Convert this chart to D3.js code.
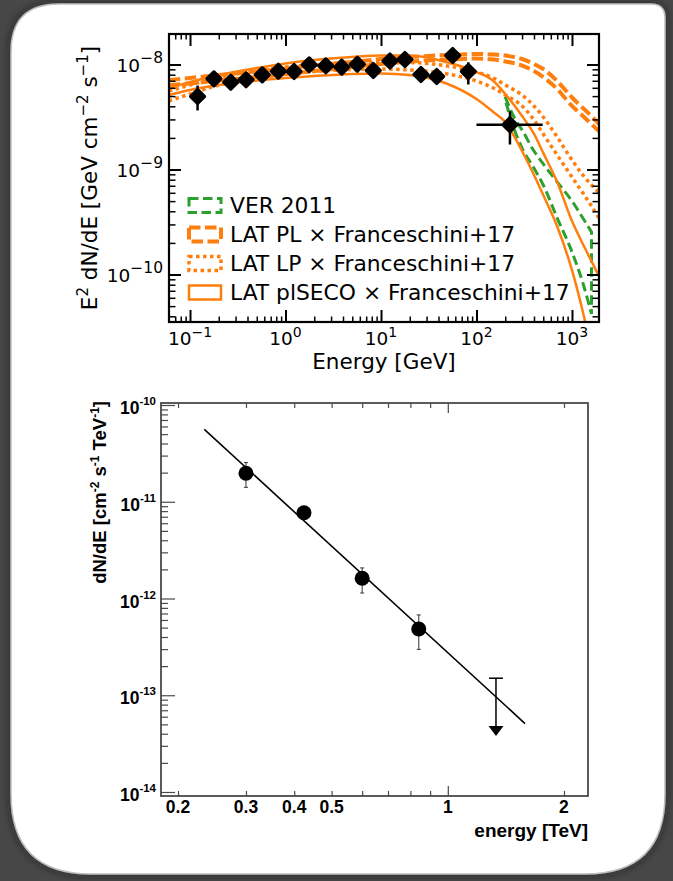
<!DOCTYPE html>
<html>
<head>
<meta charset="utf-8">
<script src="https://cdn.jsdelivr.net/npm/d3@7"></script>
<style>
  html, body { margin: 0; padding: 0; background: #474747; }
  svg { display: block; }
</style>
</head>
<body>
<svg id="fig" width="673" height="881"></svg>
<script>
// ---------------- Upper panel: Fermi-LAT SED with EBL-absorbed models ----------------
const latEnergy = [0.12, 0.178, 0.267, 0.386, 0.571, 0.841, 1.23, 1.77, 2.64, 3.88, 5.65, 8.3, 12.4, 17.8, 26.2, 38.3, 56.3, 82.1];
const latFlux   = [4.95e-9, 7.3e-9, 6.78e-9, 7.15e-9, 7.97e-9, 8.64e-9, 8.58e-9, 9.93e-9, 9.72e-9, 9.44e-9, 1.006e-8, 8.77e-9, 1.08e-8, 1.116e-8, 8.03e-9, 7.69e-9, 1.22e-8, 8.58e-9];
const latFluxLow  = [3.65e-9, 6.9e-9, 6.4e-9, 6.75e-9, 7.55e-9, 8.2e-9, 8.1e-9, 9.4e-9, 9.2e-9, 8.9e-9, 9.5e-9, 8.2e-9, 1.01e-8, 1.04e-8, 7.3e-9, 6.7e-9, 1.05e-8, 6.45e-9];
const latFluxHigh = [6.3e-9, 7.7e-9, 7.2e-9, 7.55e-9, 8.4e-9, 9.1e-9, 9.1e-9, 1.05e-8, 1.03e-8, 1.0e-8, 1.07e-8, 9.4e-9, 1.16e-8, 1.2e-8, 8.8e-9, 8.6e-9, 1.41e-8, 1.05e-8];

const verEnergy = [224];
const verFlux = [2.67e-9];
const verEnergyLow = [100];
const verEnergyHigh = [493];
const verFluxLow = [1.73e-9];
const verFluxHigh = [3.59e-9];

const modelEnergy = [0.06, 0.1, 0.2, 0.5, 1, 2, 5, 10, 20, 50, 100, 150, 200, 300, 400, 500, 700, 1000, 1300, 1600, 2000];
const plUpper   = [7.12e-9, 7.44e-9, 7.94e-9, 8.58e-9, 9.16e-9, 9.78e-9, 1.056e-8, 1.128e-8, 1.179e-8, 1.232e-8, 1.259e-8, 1.245e-8, 1.218e-8, 1.128e-8, 1.011e-8, 9.06e-9, 6.96e-9, 4.85e-9, 3.85e-9, 3.23e-9, 2.60e-9];
const plLower   = [6.38e-9, 6.59e-9, 7.04e-9, 7.60e-9, 8.12e-9, 8.67e-9, 9.47e-9, 1.011e-8, 1.068e-8, 1.116e-8, 1.141e-8, 1.116e-8, 1.068e-8, 9.78e-9, 8.67e-9, 7.60e-9, 5.84e-9, 4.03e-9, 3.23e-9, 2.71e-9, 2.23e-9];
const lpUpper   = [5.59e-9, 6.38e-9, 7.52e-9, 8.77e-9, 9.47e-9, 1.0e-8, 1.045e-8, 1.056e-8, 1.045e-8, 9.68e-9, 8.48e-9, 7.44e-9, 6.38e-9, 5.12e-9, 4.03e-9, 3.16e-9, 2.04e-9, 1.23e-9, 8.86e-10, 7.12e-10, 5.84e-10];
const lpLower   = [4.49e-9, 5.24e-9, 6.38e-9, 7.44e-9, 8.12e-9, 8.58e-9, 8.96e-9, 9.06e-9, 8.86e-9, 8.12e-9, 6.96e-9, 5.97e-9, 5.12e-9, 4.03e-9, 2.96e-9, 2.18e-9, 1.37e-9, 8.48e-10, 5.97e-10, 4.49e-10, 3.23e-10];
const secoUpper = [5.97e-9, 6.81e-9, 7.94e-9, 9.26e-9, 1.022e-8, 1.104e-8, 1.179e-8, 1.218e-8, 1.218e-8, 1.045e-8, 8.48e-9, 6.96e-9, 5.24e-9, 3.23e-9, 2.18e-9, 1.44e-9, 7.60e-10, 3.23e-10, 1.95e-10, 1.34e-10, 8.87e-11];
const secoLower = [5.12e-9, 5.72e-9, 6.38e-9, 7.04e-9, 7.44e-9, 7.77e-9, 8.12e-9, 8.21e-9, 7.94e-9, 6.52e-9, 4.69e-9, 3.53e-9, 2.83e-9, 1.50e-9, 8.86e-10, 5.72e-10, 2.87e-10, 1.10e-10, 4.40e-11, 1.91e-11, 6.4e-12];

const verBandEnergy = [200, 250, 300, 400, 500, 700, 1000, 1300, 1600];
const verBandUpper  = [4.90e-9, 3.09e-9, 2.38e-9, 1.50e-9, 1.13e-9, 7.60e-10, 5.01e-10, 3.45e-10, 2.54e-10];
const verBandLower  = [4.59e-9, 2.38e-9, 1.60e-9, 1.03e-9, 7.12e-10, 3.45e-10, 1.64e-10, 8.30e-11, 4.21e-11];

const legendLabels = ["VER 2011", "LAT PL \u00d7 Franceschini+17", "LAT LP \u00d7 Franceschini+17", "LAT plSECO \u00d7 Franceschini+17"];

const sedXTicks = [0.1, 1, 10, 100, 1000];
const sedXTickExp = ["\u22121", "0", "1", "2", "3"];
const sedYTicks = [1e-8, 1e-9, 1e-10];
const sedYTickExp = ["\u22128", "\u22129", "\u221210"];

// ---------------- Lower panel: VERITAS differential spectrum ----------------
const specEnergy = [0.30, 0.424, 0.60, 0.841];
const specFlux = [1.97e-11, 7.7e-12, 1.62e-12, 4.84e-13];
const specFluxLow = [1.41e-11, 6.9e-12, 1.14e-12, 2.98e-13];
const specFluxHigh = [2.54e-11, 8.6e-12, 2.07e-12, 6.76e-13];
const ulEnergy = [1.333];
const ulFlux = [1.5e-13];
const ulArrowTip = [3.8e-14];
const fitEnergy = [0.234, 1.585];
const fitFlux = [5.6e-11, 5.1e-14];

const specXTicks = [0.2, 0.3, 0.4, 0.5, 1, 2];
const specXTickLabels = ["0.2", "0.3", "0.4", "0.5", "1", "2"];
const specXMinor = [0.6, 0.7, 0.8, 0.9];
const specYTicks = [1e-10, 1e-11, 1e-12, 1e-13, 1e-14];
const specYTickExp = ["-10", "-11", "-12", "-13", "-14"];

// ---------------- colours ----------------
const orange = "#ff7f0e";
const green = "#2ca02c";

const svg = d3.select("#fig");
const defs = svg.append("defs");

// ---------------- card ----------------
const shadow = defs.append("filter").attr("id", "cardShadow")
  .attr("x", "-5%").attr("y", "-5%").attr("width", "110%").attr("height", "110%");
shadow.append("feDropShadow").attr("dx", 0).attr("dy", 0).attr("stdDeviation", 4)
  .attr("flood-color", "#1e1e1e").attr("flood-opacity", 0.8);

function roundedPath(x0, y0, x1, y1, tl, tr, br, bl) {
  return `M${x0 + tl},${y0} L${x1 - tr},${y0} Q${x1},${y0} ${x1},${y0 + tr}` +
    ` L${x1},${y1 - br} Q${x1},${y1} ${x1 - br},${y1}` +
    ` L${x0 + bl},${y1} Q${x0},${y1} ${x0},${y1 - bl}` +
    ` L${x0},${y0 + tl} Q${x0},${y0} ${x0 + tl},${y0} Z`;
}
svg.append("rect").attr("width", 673).attr("height", 881).attr("fill", "#474747");
svg.append("path")
  .attr("d", roundedPath(11, 4, 665, 874, 48, 14, 80, 80))
  .attr("fill", "#ffffff")
  .attr("stroke", "#bdbdbd").attr("stroke-width", 1.5)
  .attr("filter", "url(#cardShadow)");

// =====================================================================
// Upper panel
// =====================================================================
const sedFont = "'DejaVu Sans', sans-serif";
const A = { left: 169, right: 599, top: 34, bottom: 322 };
const x1 = d3.scaleLog().domain([0.06026, 1918]).range([A.left, A.right]);
const y1 = d3.scaleLog().domain([3.53e-11, 1.952e-8]).range([A.bottom, A.top]);

defs.append("clipPath").attr("id", "clipSed")
  .append("rect").attr("x", A.left).attr("y", A.top)
  .attr("width", A.right - A.left).attr("height", A.bottom - A.top);

const sed = svg.append("g");
const plotArea = sed.append("g").attr("clip-path", "url(#clipSed)");

const line1 = d3.line().x(d => x1(d[0])).y(d => y1(d[1])).curve(d3.curveMonotoneX);
const pairs = (xs, ys) => xs.map((v, i) => [v, ys[i]]);

// VERITAS 2011 band outline (closed)
{
  const up = pairs(verBandEnergy, verBandUpper);
  const lo = pairs(verBandEnergy, verBandLower).reverse();
  const pUp = line1(up);
  const pLo = line1(lo).replace(/^M/, "L");
  plotArea.append("path").attr("d", pUp + pLo + "Z")
    .attr("fill", "none").attr("stroke", green).attr("stroke-width", 3)
    .attr("stroke-dasharray", "9.5,4.5");
}

const modelStyles = [
  { up: plUpper, lo: plLower, width: 4, dash: "11.5,4.5" },
  { up: lpUpper, lo: lpLower, width: 3.5, dash: "3.5,3.5" },
  { up: secoUpper, lo: secoLower, width: 2.5, dash: null }
];
modelStyles.forEach(m => {
  [m.up, m.lo].forEach(arr => {
    plotArea.append("path").attr("d", line1(pairs(modelEnergy, arr)))
      .attr("fill", "none").attr("stroke", orange).attr("stroke-width", m.width)
      .attr("stroke-dasharray", m.dash);
  });
});

// rounded diamond marker
const diamond = (cx, cy, h) => `M${cx},${cy - h} L${cx + h},${cy} L${cx},${cy + h} L${cx - h},${cy} Z`;
const markerStyle = sel => sel.attr("fill", "#000").attr("stroke", "#000")
  .attr("stroke-width", 3.5).attr("stroke-linejoin", "round");

// LAT points with error bars
const latG = plotArea.append("g");
latEnergy.forEach((e, i) => {
  latG.append("line").attr("x1", x1(e)).attr("x2", x1(e))
    .attr("y1", y1(latFluxLow[i])).attr("y2", y1(latFluxHigh[i]))
    .attr("stroke", "#000").attr("stroke-width", 2.5);
});
latG.selectAll("path.pt").data(latEnergy).join("path").attr("class", "pt")
  .attr("d", (d, i) => diamond(x1(d), y1(latFlux[i]), 6.8))
  .call(markerStyle);

// VERITAS point
verEnergy.forEach((e, i) => {
  latG.append("line").attr("x1", x1(verEnergyLow[i])).attr("x2", x1(verEnergyHigh[i]))
    .attr("y1", y1(verFlux[i])).attr("y2", y1(verFlux[i]))
    .attr("stroke", "#000").attr("stroke-width", 2.5);
  latG.append("line").attr("x1", x1(e)).attr("x2", x1(e))
    .attr("y1", y1(verFluxLow[i])).attr("y2", y1(verFluxHigh[i]))
    .attr("stroke", "#000").attr("stroke-width", 2.5);
  latG.append("path").attr("d", diamond(x1(e), y1(verFlux[i]), 6.8)).call(markerStyle);
});

// ticks (inward, all four sides)
function logMinors(lo, hi) {
  const out = [];
  for (let p = Math.floor(Math.log10(lo)); p <= Math.ceil(Math.log10(hi)); p++) {
    for (let k = 2; k <= 9; k++) {
      const v = k * Math.pow(10, p);
      if (v > lo && v < hi) out.push(v);
    }
  }
  return out;
}
const sedXMinor = logMinors(0.06026, 1918);
const sedYMinor = logMinors(3.53e-11, 1.952e-8);

function styleTicks(g, w) {
  g.select(".domain").remove();
  g.selectAll("text").remove();
  g.selectAll("line").attr("stroke", "#000").attr("stroke-width", w);
}
[[d3.axisBottom, A.bottom], [d3.axisTop, A.top]].forEach(([ax, pos]) => {
  sed.append("g").attr("transform", `translate(0,${pos})`)
    .call(ax(x1).tickValues(sedXTicks).tickSize(-12).tickFormat(""))
    .call(g => styleTicks(g, 2));
  sed.append("g").attr("transform", `translate(0,${pos})`)
    .call(ax(x1).tickValues(sedXMinor).tickSize(-5.5).tickFormat(""))
    .call(g => styleTicks(g, 1.5));
});
[[d3.axisLeft, A.left], [d3.axisRight, A.right]].forEach(([ax, pos]) => {
  sed.append("g").attr("transform", `translate(${pos},0)`)
    .call(ax(y1).tickValues(sedYTicks).tickSize(-12).tickFormat(""))
    .call(g => styleTicks(g, 2));
  sed.append("g").attr("transform", `translate(${pos},0)`)
    .call(ax(y1).tickValues(sedYMinor).tickSize(-6.5).tickFormat(""))
    .call(g => styleTicks(g, 1.5));
});

sed.append("rect").attr("x", A.left).attr("y", A.top)
  .attr("width", A.right - A.left).attr("height", A.bottom - A.top)
  .attr("fill", "none").attr("stroke", "#000").attr("stroke-width", 2.2);

// tick labels
sedXTicks.forEach((v, i) => {
  const t = sed.append("text").attr("x", x1(v)).attr("y", 345)
    .attr("text-anchor", "middle").attr("font-family", sedFont).attr("font-size", 18.5).attr("fill", "#000");
  t.append("tspan").text("10");
  t.append("tspan").attr("dy", -8.5).attr("font-size", 14).text(sedXTickExp[i]);
});
sedYTicks.forEach((v, i) => {
  const t = sed.append("text").attr("x", 163).attr("y", y1(v) + 7)
    .attr("text-anchor", "end").attr("font-family", sedFont).attr("font-size", 18.5).attr("fill", "#000");
  t.append("tspan").text("10");
  t.append("tspan").attr("dy", -8.5).attr("font-size", 15.5).text(sedYTickExp[i]);
});

// axis titles
sed.append("text").attr("x", (A.left + A.right) / 2).attr("y", 369)
  .attr("text-anchor", "middle").attr("font-family", sedFont).attr("font-size", 21.5)
  .attr("fill", "#000").text("Energy [GeV]");
{
  const t = sed.append("text").attr("transform", `translate(97,${(A.top + A.bottom) / 2}) rotate(-90)`)
    .attr("text-anchor", "middle").attr("font-family", sedFont).attr("font-size", 21.5).attr("fill", "#000");
  t.append("tspan").text("E");
  t.append("tspan").attr("dy", -9).attr("font-size", 15).text("2");
  t.append("tspan").attr("dy", 9).text(" dN/dE [GeV cm");
  t.append("tspan").attr("dy", -9).attr("font-size", 15).text("\u22122");
  t.append("tspan").attr("dy", 9).text(" s");
  t.append("tspan").attr("dy", -9).attr("font-size", 15).text("\u22121");
  t.append("tspan").attr("dy", 9).text("]");
}

// legend (no frame)
const legendRows = [205.5, 234.5, 263.5, 292.5];
const legendStyles = [
  { color: green, width: 3, dash: "9.5,4.5" },
  { color: orange, width: 4, dash: "11.5,4.5" },
  { color: orange, width: 3.5, dash: "3.5,3.5" },
  { color: orange, width: 2.5, dash: null }
];
legendLabels.forEach((lab, i) => {
  const cy = legendRows[i];
  const s = legendStyles[i];
  sed.append("rect").attr("x", 189).attr("y", cy - 7).attr("width", 32).attr("height", 14)
    .attr("fill", "none").attr("stroke", s.color).attr("stroke-width", s.width)
    .attr("stroke-dasharray", s.dash);
  sed.append("text").attr("x", 230).attr("y", cy + 7.8)
    .attr("font-family", sedFont).attr("font-size", 21.8).attr("fill", "#000").text(lab);
});

// =====================================================================
// Lower panel
// =====================================================================
const rootFont = "'Liberation Sans', Arial, Helvetica, sans-serif";
const B = { left: 161, right: 588, top: 403, bottom: 796 };
const x2 = d3.scaleLog().domain([0.1807, 2.308]).range([B.left, B.right]);
const y2 = d3.scaleLog().domain([9.09e-15, 1.049e-10]).range([B.bottom, B.top]);
const frameColor = "#4a4a4a";

const spec = svg.append("g");

function styleRoot(g) {
  g.select(".domain").remove();
  g.selectAll("text").remove();
  g.selectAll("line").attr("stroke", frameColor).attr("stroke-width", 1.2);
}
const bigX = [1];
const smallX = specXTicks.filter(v => v !== 1).concat(specXMinor);
[[d3.axisBottom, B.bottom], [d3.axisTop, B.top]].forEach(([ax, pos]) => {
  spec.append("g").attr("transform", `translate(0,${pos})`)
    .call(ax(x2).tickValues(bigX).tickSize(-10).tickFormat("")).call(styleRoot);
  spec.append("g").attr("transform", `translate(0,${pos})`)
    .call(ax(x2).tickValues(smallX).tickSize(-5).tickFormat("")).call(styleRoot);
});
spec.append("g").attr("transform", `translate(${B.left},0)`)
  .call(d3.axisLeft(y2).tickValues(specYTicks).tickSize(-14).tickFormat("")).call(styleRoot);
spec.append("g").attr("transform", `translate(${B.left},0)`)
  .call(d3.axisLeft(y2).tickValues(logMinors(9.09e-15, 1.049e-10)).tickSize(-7).tickFormat("")).call(styleRoot);

spec.append("rect").attr("x", B.left).attr("y", B.top)
  .attr("width", B.right - B.left).attr("height", B.bottom - B.top)
  .attr("fill", "none").attr("stroke", frameColor).attr("stroke-width", 1.8);

// fit line
spec.append("path")
  .attr("d", d3.line().x(d => x2(d[0])).y(d => y2(d[1]))(pairs(fitEnergy, fitFlux)))
  .attr("stroke", "#000").attr("stroke-width", 1.6).attr("fill", "none");

// points with error bars
specEnergy.forEach((e, i) => {
  const cx = x2(e);
  spec.append("line").attr("x1", cx).attr("x2", cx)
    .attr("y1", y2(specFluxLow[i])).attr("y2", y2(specFluxHigh[i]))
    .attr("stroke", "#333").attr("stroke-width", 1);
  [specFluxLow[i], specFluxHigh[i]].forEach(v => {
    spec.append("line").attr("x1", cx - 2).attr("x2", cx + 2)
      .attr("y1", y2(v)).attr("y2", y2(v)).attr("stroke", "#333").attr("stroke-width", 1);
  });
});
spec.selectAll("circle").data(specEnergy).join("circle")
  .attr("cx", d => x2(d)).attr("cy", (d, i) => y2(specFlux[i])).attr("r", 7.5).attr("fill", "#000");

// upper limit arrow
ulEnergy.forEach((e, i) => {
  const cx = x2(e);
  const top = y2(ulFlux[i]);
  const tip = y2(ulArrowTip[i]);
  spec.append("line").attr("x1", cx - 7).attr("x2", cx + 7).attr("y1", top).attr("y2", top)
    .attr("stroke", "#000").attr("stroke-width", 1.5);
  spec.append("line").attr("x1", cx).attr("x2", cx).attr("y1", top).attr("y2", tip - 9)
    .attr("stroke", "#000").attr("stroke-width", 1.5);
  spec.append("path").attr("d", `M${cx - 7.5},${tip - 10} L${cx + 7.5},${tip - 10} L${cx},${tip} Z`)
    .attr("fill", "#000");
});

// tick labels
specXTicks.forEach((v, i) => {
  spec.append("text").attr("x", x2(v)).attr("y", 813).attr("text-anchor", "middle")
    .attr("font-family", rootFont).attr("font-weight", "bold").attr("font-size", 17.5)
    .attr("fill", "#000").text(specXTickLabels[i]);
});
specYTicks.forEach((v, i) => {
  const t = spec.append("text").attr("x", 156).attr("y", y2(v) + 9).attr("text-anchor", "end")
    .attr("font-family", rootFont).attr("font-weight", "bold").attr("font-size", 17.5).attr("fill", "#000");
  t.append("tspan").text("10");
  t.append("tspan").attr("dy", -9).attr("font-size", 11.5).text(specYTickExp[i]);
});

// axis titles
spec.append("text").attr("x", B.right).attr("y", 837).attr("text-anchor", "end")
  .attr("font-family", rootFont).attr("font-weight", "bold").attr("font-size", 19)
  .attr("fill", "#000").text("energy [TeV]");
{
  const t = spec.append("text").attr("transform", `translate(106,${B.top - 2}) rotate(-90)`)
    .attr("text-anchor", "end").attr("font-family", rootFont).attr("font-weight", "bold")
    .attr("font-size", 18.5).attr("fill", "#000");
  t.append("tspan").text("dN/dE [cm");
  t.append("tspan").attr("dy", -7).attr("font-size", 12).text("-2");
  t.append("tspan").attr("dy", 7).text(" s");
  t.append("tspan").attr("dy", -7).attr("font-size", 12).text("-1");
  t.append("tspan").attr("dy", 7).text(" TeV");
  t.append("tspan").attr("dy", -7).attr("font-size", 12).text("-1");
  t.append("tspan").attr("dy", 7).text("]");
}
</script>
</body>
</html>
